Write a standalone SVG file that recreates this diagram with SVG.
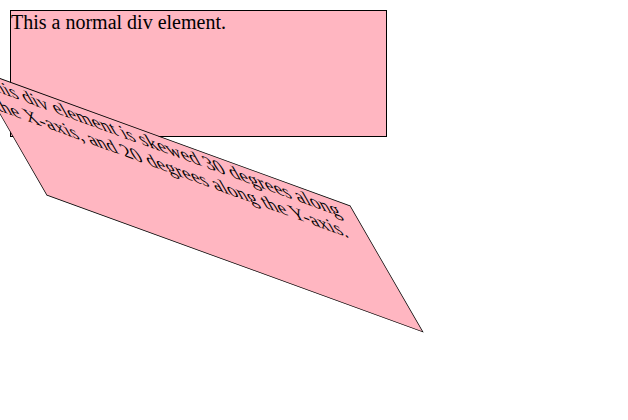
<svg xmlns="http://www.w3.org/2000/svg" width="628" height="420" viewBox="0 0 628 420">
  <style>
    .box { fill: #FFB6C1; stroke: #000000; stroke-width: 1; }
    .txt { font-family: "Liberation Serif", "Times New Roman", serif; font-size: 20px; fill: #000000; }
  </style>
  <rect x="0" y="0" width="628" height="420" fill="#ffffff"/>
  <g id="normal-div">
    <rect class="box" x="10.5" y="10.5" width="376" height="126"/>
    <text class="txt" x="11" y="28.5">This a normal div element.</text>
  </g>
  <g id="skewed-div" transform="translate(198.5,200.5) matrix(1,0.36397,0.57735,1,0,0) translate(-198.5,-200.5)">
    <rect class="box" x="10.5" y="137.5" width="376" height="126"/>
    <text class="txt" x="11" y="155.5">This div element is skewed 30 degrees along</text>
    <text class="txt" x="11" y="178.5">the X-axis, and 20 degrees along the Y-axis.</text>
  </g>
</svg>
